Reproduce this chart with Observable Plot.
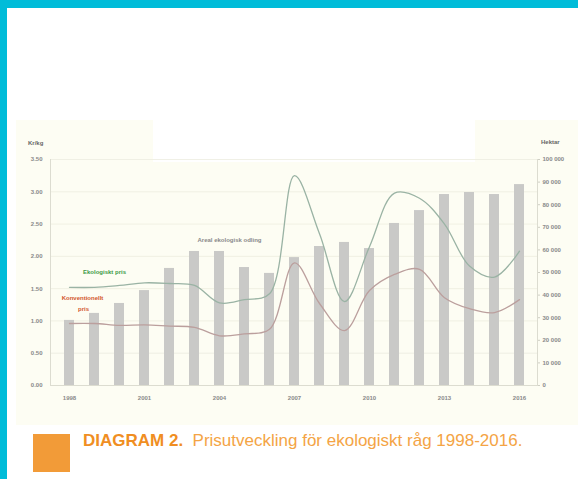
<!DOCTYPE html>
<html>
<head>
<meta charset="utf-8">
<script src="https://cdn.jsdelivr.net/npm/d3@7"></script>
<script src="https://cdn.jsdelivr.net/npm/@observablehq/plot@0.6"></script>
<style>
  html, body { margin: 0; padding: 0; background: #fff; }
  body { width: 578px; height: 479px; position: relative; overflow: hidden; font-family: "Liberation Sans", Arial, sans-serif; }
  .abs { position: absolute; }
</style>
</head>
<body>
<div class="abs" style="left:0;top:0;width:578px;height:8px;background:#00bcd9"></div>
<div class="abs" style="left:0;top:0;width:7px;height:479px;background:#00bcd9"></div>
<div class="abs" style="left:16px;top:120px;width:562px;height:305px;background:#fdfdf3"></div>
<div class="abs" style="left:153px;top:120px;width:322px;height:42px;background:#ffffff"></div>
<div id="chart" class="abs" style="left:16px;top:118px"></div>
<div class="abs" style="left:28px;top:140px;font-size:6px;font-weight:bold;color:#666">Kr/kg</div>
<div class="abs" style="left:541px;top:139px;font-size:6px;font-weight:bold;color:#666">Hektar</div>
<div class="abs" style="left:33px;top:434px;width:37px;height:38px;background:#f29b38"></div>
<div class="abs" style="left:83px;top:431px;font-size:17px;white-space:nowrap;color:#f4a445"><b style="color:#f08e22">DIAGRAM 2.</b>&nbsp; Prisutveckling för ekologiskt råg 1998-2016.</div>
<script>
// Data
const years    = [1998,1999,2000,2001,2002,2003,2004,2005,2006,2007,2008,2009,2010,2011,2012,2013,2014,2015,2016];
const hektar   = [28800,31900,36300,42000,51800,59300,59300,52200,49600,56600,61500,63300,60600,71700,77400,84500,85400,84500,88900];
const ekoPris  = [1.52,1.52,1.55,1.59,1.58,1.55,1.28,1.33,1.42,3.25,2.35,1.30,2.15,2.98,2.90,2.50,1.85,1.68,2.08];
const konvPris = [0.96,0.96,0.93,0.94,0.92,0.90,0.77,0.80,0.87,1.90,1.27,0.85,1.47,1.72,1.80,1.36,1.19,1.13,1.33];

const yTicks   = [0,0.5,1,1.5,2,2.5,3,3.5];
const haTicks  = [0,10000,20000,30000,40000,50000,60000,70000,80000,90000,100000];
const xTicks   = [1998,2001,2004,2007,2010,2013,2016];

const labelText  = ["Ekologiskt pris","Konventionellt","pris","Areal ekologisk odling"];
const labelYear  = [1999,1998,1998,2004];
const labelValue = [1.75,1.35,1.18,2.25];
const labelShift = [10,13,14,10];
const labelColor = ["#3e9a48","#d2562e","#d2562e","#8a8a8a"];

const yMax = 3.5, haMax = 100000;
const k = yMax / haMax;

const table = years.map((y,i) => ({year: y, ha: hektar[i], eko: ekoPris[i], konv: konvPris[i]}));

const loc = d3.formatLocale({decimal: ".", thousands: " ", grouping: [3], currency: ["",""]});
const haFmt = loc.format(",d");

const labelMarks = labelText.map((t,i) =>
  Plot.text([{text: t, year: labelYear[i], v: labelValue[i]}],
    {x: "year", y: "v", text: "text", fill: labelColor[i], fontSize: 6, fontWeight: "bold", textAnchor: "middle", dx: labelShift[i]}));

const chart = Plot.plot({
  width: 562,
  height: 307,
  marginLeft: 34,
  marginRight: 41,
  marginTop: 41,
  marginBottom: 40,
  style: {background: "transparent", fontFamily: "Liberation Sans, Arial, sans-serif", overflow: "visible"},
  x: {type: "band", domain: years, paddingInner: 0.6, paddingOuter: 0.3},
  y: {domain: [0, yMax]},
  marks: [
    Plot.ruleY(yTicks, {stroke: "#ecece0", strokeWidth: 0.8}),
    Plot.frame({anchor: "left", stroke: "#dcdcd0"}),
    Plot.frame({anchor: "right", stroke: "#dcdcd0"}),
    Plot.frame({anchor: "bottom", stroke: "#dcdcd0"}),
    Plot.barY(table, {x: "year", y: d => d.ha * k, fill: "#c9c9c7"}),
    Plot.line(table, {x: "year", y: "eko", curve: "catmull-rom", stroke: "#9ab3a4", strokeWidth: 1.3}),
    Plot.line(table, {x: "year", y: "konv", curve: "catmull-rom", stroke: "#bb9f9d", strokeWidth: 1.3}),
    ...labelMarks,
    Plot.axisY(yTicks, {anchor: "left", tickFormat: d3.format(".2f"), tickSize: 0, tickPadding: 8, fontSize: 6, fontWeight: "bold", fill: "#8a8a8a", label: null}),
    Plot.axisY(haTicks.map(v => v * k), {anchor: "right", tickFormat: v => haFmt(Math.round(v / k)), tickSize: 2, tickPadding: 3, stroke: "#cfcfc4", fontSize: 6, fontWeight: "bold", fill: "#8a8a8a", label: null}),
    Plot.axisX(xTicks, {anchor: "bottom", tickFormat: d3.format("d"), tickSize: 0, tickPadding: 10, fontSize: 6, fontWeight: "bold", fill: "#8a8a8a", label: null})
  ]
});
document.getElementById("chart").appendChild(chart);
</script>
</body>
</html>
